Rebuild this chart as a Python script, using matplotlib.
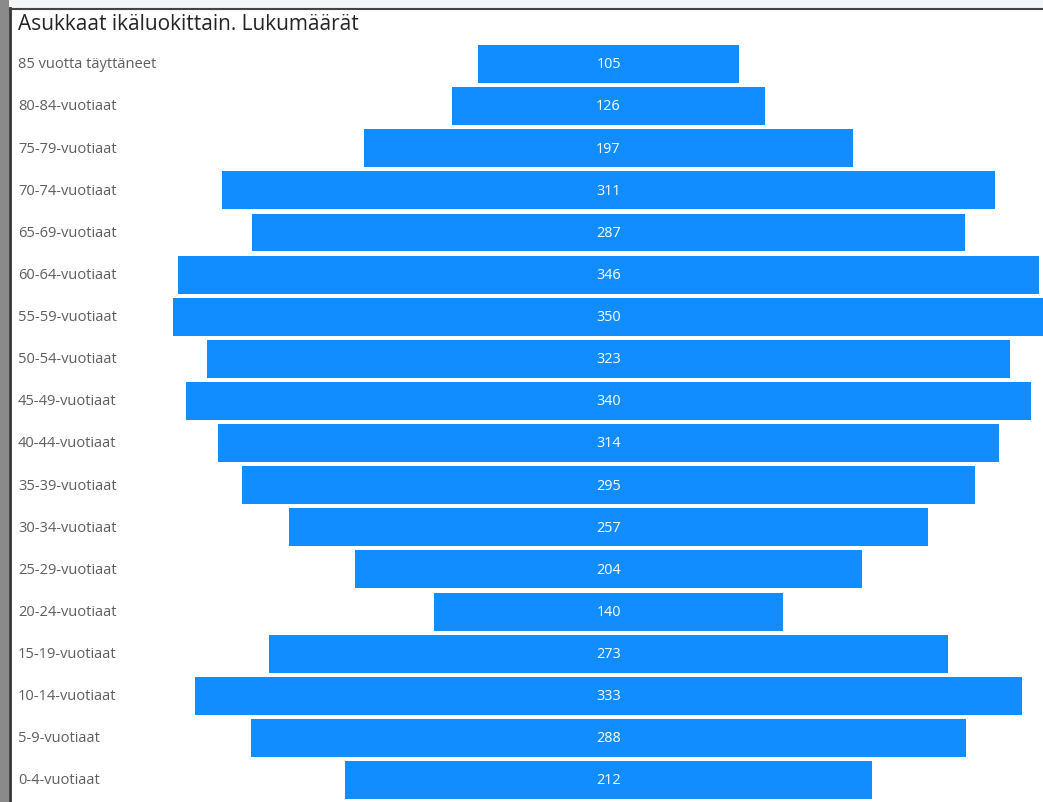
import matplotlib.pyplot as plt
from matplotlib.patches import Rectangle

# ---- data ----
age_groups = [
    "85 vuotta täyttäneet", "80-84-vuotiaat", "75-79-vuotiaat", "70-74-vuotiaat",
    "65-69-vuotiaat", "60-64-vuotiaat", "55-59-vuotiaat", "50-54-vuotiaat",
    "45-49-vuotiaat", "40-44-vuotiaat", "35-39-vuotiaat", "30-34-vuotiaat",
    "25-29-vuotiaat", "20-24-vuotiaat", "15-19-vuotiaat", "10-14-vuotiaat",
    "5-9-vuotiaat", "0-4-vuotiaat",
]
counts = [105, 126, 197, 311, 287, 346, 350, 323, 340, 314, 295, 257, 204, 140, 273, 333, 288, 212]

BAR_COLOR = "#118DFF"
LABEL_COLOR = "#605E5C"

W, H = 1043, 802
fig = plt.figure(figsize=(W / 100, H / 100), dpi=100)
fig.patch.set_facecolor("white")

# pixel geometry of the funnel
cx = 608.5          # centre of bars (px)
px_per_unit = 2.486
row0 = 64.0         # centre of first row (px from top)
step = 42.12        # row spacing (px)

ax = fig.add_axes([0, 0, 1, 1])
ax.set_xlim(-cx / px_per_unit, (W - cx) / px_per_unit)
ax.set_ylim((H - row0) / step, -row0 / step)
ax.axis("off")

n = len(counts)
ys = list(range(n))
ax.barh(ys, counts, left=[-c / 2 for c in counts], height=0.9,
        color=BAR_COLOR, edgecolor="none")
for y, c in zip(ys, counts):
    ax.text(0, y + 0.02, str(c), ha="center", va="center", color="white",
            fontsize=10.4, family="Open Sans")

# category labels, left aligned in the figure
for y, lab in zip(ys, age_groups):
    ax.text(18 / W, y + 0.02, lab, transform=ax.get_yaxis_transform(),
            ha="left", va="center", color=LABEL_COLOR, fontsize=10.5,
            family="Open Sans")

# title
fig.text(18 / W, 1 - 24 / H, "Asukkaat ikäluokittain. Lukumäärät",
         ha="left", va="center", fontsize=15, color="#252423",
         family="Open Sans")

# screenshot frame
fig.patches.append(Rectangle((0, 1 - 8 / H), 1, 8 / H, transform=fig.transFigure,
                             facecolor="#F3F6F9", edgecolor="none"))
fig.patches.append(Rectangle((0, 0), 9 / W, 1, transform=fig.transFigure,
                             facecolor="#8A8A8A", edgecolor="none"))
fig.lines.append(plt.Line2D([10 / W, 10 / W], [0, 1 - 8 / H], transform=fig.transFigure,
                            color="#333333", lw=2))
fig.lines.append(plt.Line2D([10 / W, 1], [1 - 9 / H, 1 - 9 / H], transform=fig.transFigure,
                            color="#444444", lw=1.5))

fig.savefig("out.png", dpi=100)
